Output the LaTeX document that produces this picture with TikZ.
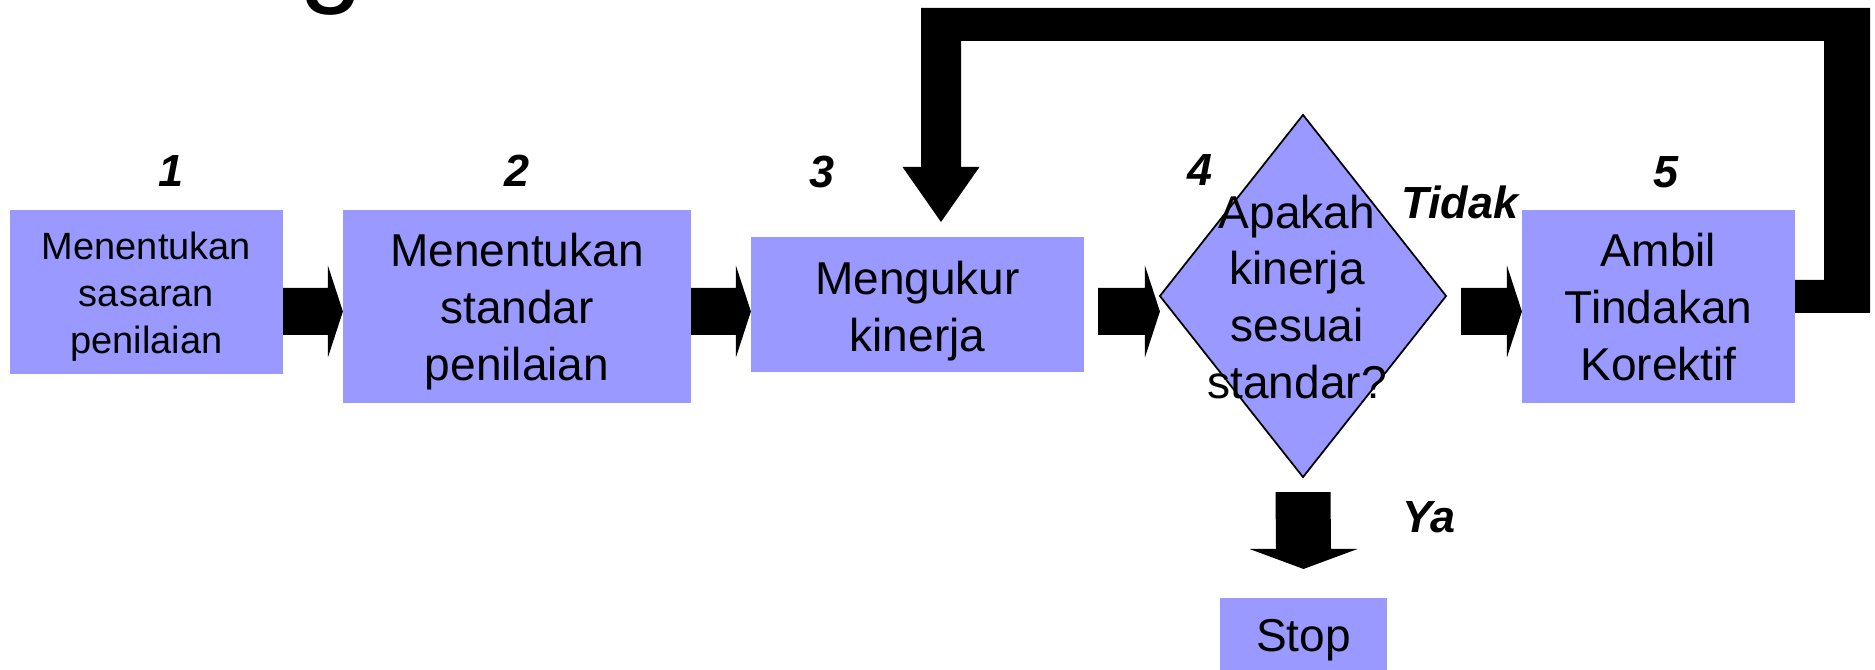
\documentclass[tikz,border=0pt]{standalone}
\usepackage{fontspec}
\setmainfont{Liberation Sans}
\usetikzlibrary{shapes.geometric,calc}

\definecolor{boxfill}{RGB}{153,153,255}

% horizontal block arrow: source anchor, target anchor, gap after source
\newcommand\rightblock[3]{%
  \fill[blockarrow] ($(#1|-row)+(#3,-23.5)$) -- ($(#2|-row)+(-15,-23.5)$)
    -- ($(#2|-row)+(-15,-46)$) -- (#2|-row) -- ($(#2|-row)+(-15,46)$)
    -- ($(#2|-row)+(-15,23.5)$) -- ($(#1|-row)+(#3,23.5)$) -- cycle;}

\begin{document}
\begin{tikzpicture}[x=0.01cm,y=-0.01cm,
  box/.style={rectangle,fill=boxfill,inner sep=0pt,outer sep=0pt},
  boxtext/.style={align=center,inner sep=0pt,font=\fontsize{13.1pt}{16.2pt}\selectfont},
  smalltext/.style={align=center,inner sep=0pt,font=\fontsize{10.8pt}{13.4pt}\selectfont},
  decision/.style={diamond,fill=boxfill,draw=black,line width=0.5pt,inner sep=0pt,outer sep=0pt},
  steplabel/.style={font=\fontsize{12.8pt}{15pt}\selectfont\bfseries\itshape,inner sep=0pt},
  blockarrow/.style={fill=black}]

\useasboundingbox (0,0) rectangle (1875,670);

% heading (only its descender shows)
\node[font=\fontsize{32.7pt}{36pt}\selectfont,anchor=base,inner sep=0pt] (title) at (331,-8) {g};

% process steps
\node[box,minimum width=2.73cm,minimum height=1.64cm] (b1) at (146.5,292) {};
\node[box,minimum width=3.48cm,minimum height=1.93cm] (b2) at (517,306.5) {};
\node[box,minimum width=3.33cm,minimum height=1.35cm] (b3) at (917.5,304.5) {};
\node[decision,minimum width=2.86cm,minimum height=3.62cm] (d4) at (1303,296) {};
\node[box,minimum width=2.73cm,minimum height=1.93cm] (b5) at (1658.5,306.5) {};
\node[box,minimum width=1.67cm,minimum height=0.84cm] (stop) at (1303.5,640) {};

\node[smalltext] (t1) at ($(b1)+(0,5)$) {Menentukan\\sasaran\\penilaian};
\node[boxtext] (t2) at ($(b2)+(0,5)$) {Menentukan\\standar\\penilaian};
\node[boxtext] (t3) at ($(b3)+(0,7)$) {Mengukur\\kinerja};
\node[boxtext] (t5) at ($(b5)+(0,1)$) {Ambil\\Tindakan\\Korektif};
\node[boxtext] (tstop) at (stop) {Stop};

% step numbers and branch labels
\node[steplabel] (n1) at (171,171) {1};
\node[steplabel] (n2) at (517,171) {2};
\node[steplabel] (n3) at (822,172) {3};
\node[steplabel] (n4) at (1200,170) {4};
\node[steplabel] (n5) at (1666,172) {5};
\node[steplabel] (tidak) at (1460,202) {Tidak};
\node[steplabel] (ya) at (1429,517) {Ya};

% main row of block arrows
\coordinate (row) at (0,311.5);
\rightblock{b1.east}{b2.west}{0}
\rightblock{b2.east}{b3.west}{0}
\rightblock{b3.east}{d4.west}{14}
\rightblock{d4.east}{b5.west}{15}

% feedback loop from corrective action back to measuring
\coordinate (fbtip) at ($(b3.north)+(23.5,-15)$);
\fill[blockarrow] ($(b5.east)+(0,-26.5)$) -- (1824,280) -- (1824,41)
  -- ($(fbtip)+(20,-181)$) -- ($(fbtip)+(20,-55)$) -- ($(fbtip)+(38.5,-55)$)
  -- (fbtip) -- ($(fbtip)+(-38.5,-55)$) -- ($(fbtip)+(-20,-55)$)
  -- ($(fbtip)+(-20,-214)$) -- (1870,8) -- (1870,313)
  -- ($(b5.east)+(0,6.5)$) -- cycle;

% yes branch down to stop
\coordinate (yatip) at ($(stop.north)+(0,-29)$);
\fill[blockarrow] ($(d4.south)+(-27.5,15)$) -- ($(yatip)+(-27.5,-20)$)
  -- ($(yatip)+(-54,-20)$) -- (yatip) -- ($(yatip)+(54,-20)$)
  -- ($(yatip)+(27.5,-20)$) -- ($(d4.south)+(27.5,15)$) -- cycle;

% question text over the decision diamond
\node[boxtext] (q4) at ($(d4)+(-6,1)$) {Apakah\\kinerja\\sesuai\\standar?};
\end{tikzpicture}
\end{document}
